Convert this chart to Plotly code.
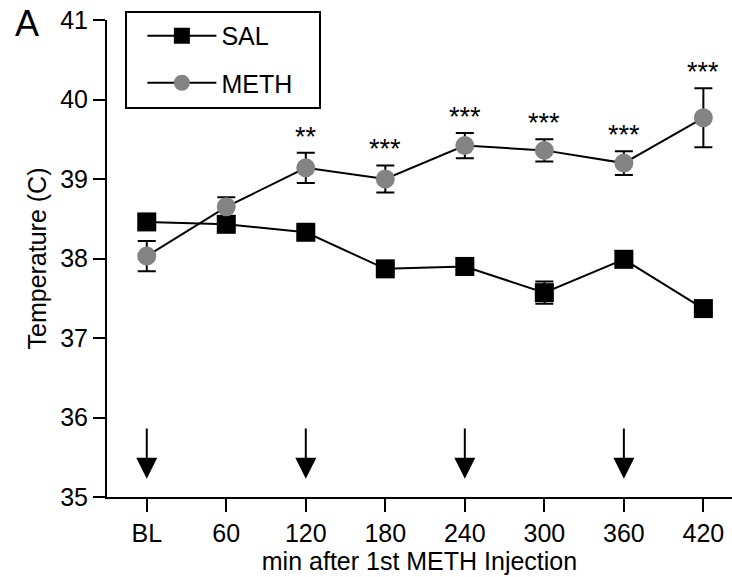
import plotly.graph_objects as go

categories = ["BL", "60", "120", "180", "240", "300", "360", "420"]
sal_mean = [38.46, 38.43, 38.33, 37.87, 37.90, 37.57, 37.99, 37.37]
sal_err = [0.08, 0.05, 0.05, 0.05, 0.10, 0.14, 0.10, 0.05]
meth_mean = [38.03, 38.65, 39.14, 39.00, 39.42, 39.36, 39.20, 39.77]
meth_err = [0.19, 0.12, 0.19, 0.17, 0.16, 0.14, 0.15, 0.37]
stars = ["", "", "**", "***", "***", "***", "***", "***"]
injections = ["BL", "120", "240", "360"]
y_ticks = [35, 36, 37, 38, 39, 40, 41]

xi = list(range(len(categories)))
FONT = "Liberation Sans, Arial, Helvetica, sans-serif"

fig = go.Figure()
fig.add_trace(go.Scatter(
    x=xi, y=sal_mean, name="SAL", mode="lines+markers", legend="legend",
    line=dict(color="black", width=2),
    marker=dict(symbol="square", size=19, color="black"),
    error_y=dict(type="data", array=sal_err, color="black", thickness=2, width=9),
))
fig.add_trace(go.Scatter(
    x=xi, y=meth_mean, name="METH", mode="lines+markers", legend="legend2",
    line=dict(color="black", width=2),
    marker=dict(symbol="circle", size=19, color="#838383"),
    error_y=dict(type="data", array=meth_err, color="black", thickness=2, width=9),
))

for i, s in enumerate(stars):
    if s:
        fig.add_annotation(x=xi[i], y=meth_mean[i] + meth_err[i], text=s,
                           showarrow=False, yanchor="bottom", yshift=-1,
                           font=dict(size=27, color="black", family=FONT))

for c in injections:
    i = categories.index(c)
    fig.add_annotation(x=xi[i], y=35.23, ax=xi[i], ay=35.88,
                       xref="x", yref="y", axref="x", ayref="y",
                       showarrow=True, arrowhead=2, arrowsize=2.1,
                       arrowwidth=2, arrowcolor="black", text="")

fig.add_annotation(x=-0.151, y=0.992, xref="paper", yref="paper", text="A",
                   showarrow=False, xanchor="left", yanchor="middle",
                   font=dict(size=36, color="black", family=FONT))

# legend frame
fig.add_shape(type="rect", xref="paper", yref="paper",
              x0=0.0304, x1=0.3408, y0=0.8155, y1=1.0168,
              line=dict(color="black", width=2), fillcolor="white", layer="above")

leg_common = dict(xanchor="left", yanchor="top", borderwidth=0,
                  bgcolor="rgba(0,0,0,0)", itemwidth=69,
                  font=dict(size=25, family=FONT, color="black"))

fig.update_layout(
    width=732, height=577,
    margin=dict(l=107, r=0, t=20, b=80),
    paper_bgcolor="white", plot_bgcolor="white",
    font=dict(family=FONT, size=25, color="black"),
    showlegend=True,
    legend=dict(x=0.0566, y=1.0147, **leg_common),
    legend2=dict(x=0.0566, y=0.9161, **leg_common),
    xaxis=dict(range=[-0.5, 7.36], tickvals=xi, ticktext=categories,
               showline=True, linecolor="black", linewidth=2,
               ticks="outside", ticklen=13, tickwidth=1.5, tickcolor="black",
               tickfont=dict(size=25),
               showgrid=False, zeroline=False,
               title=dict(text="min after 1st METH Injection", standoff=4,
                          font=dict(size=25))),
    yaxis=dict(range=[35, 41], tickvals=y_ticks,
               showline=True, linecolor="black", linewidth=2,
               ticks="outside", ticklen=12, tickwidth=1.5, tickcolor="black",
               tickfont=dict(size=25),
               showgrid=False, zeroline=False,
               title=dict(text="Temperature (C)", standoff=6,
                          font=dict(size=25))),
)

fig.write_html("out.html")
